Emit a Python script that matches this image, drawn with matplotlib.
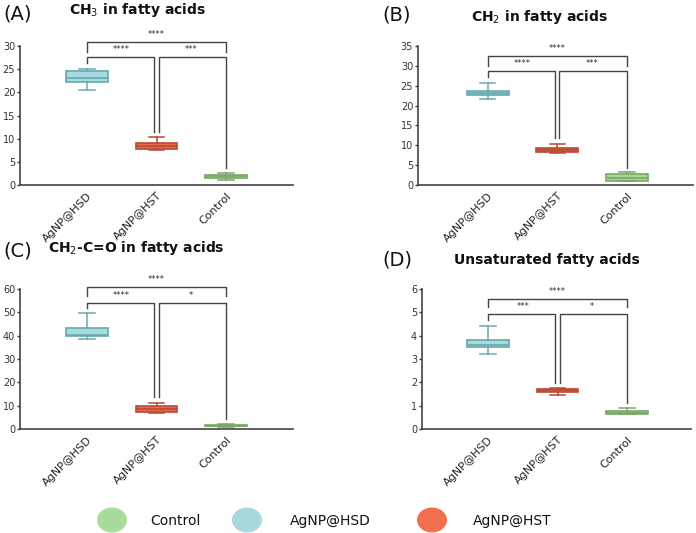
import matplotlib
matplotlib.use('Agg')
import matplotlib.pyplot as plt
from matplotlib.patches import Ellipse

groups = ['AgNP@HSD', 'AgNP@HST', 'Control']

# box stats per group: [whislo, q1, med, q3, whishi]
ch3_box = [[20.5, 22.3, 23.2, 24.6, 25.0],
           [7.5, 7.8, 8.4, 9.0, 10.3],
           [1.0, 1.6, 1.9, 2.2, 2.5]]
ch2_box = [[21.6, 22.7, 23.1, 23.7, 25.8],
           [8.0, 8.2, 8.7, 9.2, 10.2],
           [1.0, 1.1, 1.8, 2.8, 3.3]]
cco_box = [[38.5, 39.7, 40.3, 43.2, 49.6],
           [6.8, 7.5, 8.6, 10.0, 11.3],
           [1.0, 1.2, 1.5, 1.8, 2.0]]
unsat_box = [[3.21, 3.51, 3.62, 3.80, 4.43],
             [1.47, 1.60, 1.66, 1.72, 1.75],
             [0.65, 0.66, 0.70, 0.76, 0.90]]

# significance labels: [HSD vs Control, HSD vs HST, HST vs Control]
ch3_sig = ['****', '****', '***']
ch2_sig = ['****', '****', '***']
cco_sig = ['****', '****', '*']
unsat_sig = ['****', '***', '*']

# bracket levels: [top, top ends, second, HSD end, HST end, Control end]
ch3_br = [30.9, 28.7, 27.6, 26.3, 11.5, 3.7]
ch2_br = [32.5, 30.0, 28.7, 27.3, 11.8, 4.2]
cco_br = [61.0, 57.1, 54.2, 51.7, 13.9, 4.1]
unsat_br = [5.59, 5.21, 4.94, 4.69, 1.97, 1.11]

titles = ['CH$_3$ in fatty acids', 'CH$_2$ in fatty acids',
          'CH$_2$-C=O in fatty acids', 'Unsaturated fatty acids']
panel_labels = ['(A)', '(B)', '(C)', '(D)']
ymax = [30, 35, 60, 6]
ystep = [5, 5, 10, 1]

fills = ['#a6dbe0', '#ea6a4c', '#a9d595']
edges = ['#6aa9ad', '#b84a35', '#78a867']

W, H = 696, 533
fig = plt.figure(figsize=(W / 100, H / 100), dpi=100)


def px_axes(x0, x1, ytop, ybot):
    return fig.add_axes([x0 / W, 1 - ybot / H, (x1 - x0) / W, (ybot - ytop) / H])


axes = [px_axes(20, 293, 46, 185), px_axes(418, 693, 46, 185),
        px_axes(20, 293, 289, 429), px_axes(422, 691, 289, 429)]
boxes = [ch3_box, ch2_box, cco_box, unsat_box]
sigs = [ch3_sig, ch2_sig, cco_sig, unsat_sig]
brs = [ch3_br, ch2_br, cco_br, unsat_br]
xlims = [(-0.96, 2.96), (-1.0, 2.95), (-0.96, 2.96), (-0.95, 2.92)]

line_c = '#444444'
for i, ax in enumerate(axes):
    stats = []
    for g, b in zip(groups, boxes[i]):
        stats.append({'label': g, 'whislo': b[0], 'q1': b[1], 'med': b[2],
                      'q3': b[3], 'whishi': b[4]})
    bp = ax.bxp(stats, positions=range(3), widths=0.6, patch_artist=True,
                showfliers=False, manage_ticks=False)
    for j in range(3):
        bp['boxes'][j].set(facecolor=fills[j], edgecolor=edges[j], linewidth=1.2)
        bp['medians'][j].set(color=edges[j], linewidth=1.2)
        for k in (2 * j, 2 * j + 1):
            bp['whiskers'][k].set(color=edges[j], linewidth=1.1)
            bp['caps'][k].set(color=edges[j], linewidth=1.1, xdata=[j - 0.11, j + 0.11])

    ax.set_xlim(*xlims[i])
    ax.set_ylim(0, ymax[i])
    ax.set_yticks(range(0, ymax[i] + 1, ystep[i]))
    ax.set_xticks(range(3))
    ax.set_xticklabels(groups, rotation=45, ha='right', rotation_mode='anchor',
                       fontsize=8, color='#222222')
    ax.tick_params(axis='y', labelsize=7, colors='#333333', length=2, width=1, pad=1.5)
    ax.tick_params(axis='x', length=0, pad=4)
    for s in ('top', 'right'):
        ax.spines[s].set_visible(False)
    for s in ('left', 'bottom'):
        ax.spines[s].set(color='#444444', linewidth=1.2)

    # significance brackets
    br = brs[i]
    kw = dict(color=line_c, lw=1, clip_on=False)
    ax.plot([0, 0, 2, 2], [br[1], br[0], br[0], br[1]], **kw)
    d = 0.03
    ax.plot([0, 0, 1 - d, 1 - d], [br[3], br[2], br[2], br[4]], **kw)
    ax.plot([1 + d, 1 + d, 2, 2], [br[4], br[2], br[2], br[5]], **kw)
    tk = dict(ha='center', va='bottom', fontsize=6, color='#333333',
              textcoords='offset points', annotation_clip=False)
    ax.annotate(sigs[i][0], (1, br[0]), xytext=(0, 2), **tk)
    ax.annotate(sigs[i][1], (0.5, br[2]), xytext=(0, 2), **tk)
    ax.annotate(sigs[i][2], (1.5, br[2]), xytext=(0, 2), **tk)

# panel labels and titles
label_pos = [(3, 14), (382, 15), (3, 251), (382, 260)]
title_pos = [(69, 10), (471, 17), (48, 248), (454, 260)]
for i in range(4):
    fig.text(label_pos[i][0] / W, 1 - label_pos[i][1] / H, panel_labels[i],
             fontsize=14, va='center', ha='left', color='#111111')
    fig.text(title_pos[i][0] / W, 1 - title_pos[i][1] / H, titles[i],
             fontsize=10, fontweight='bold', va='center', ha='left', color='#111111')

# legend
leg_names = ['Control', 'AgNP@HSD', 'AgNP@HST']
leg_colors = ['#a8dc9c', '#a8d8dc', '#f07050']
leg_x = [112, 247, 432]
text_x = [150, 290, 473]
for name, c, mx, tx in zip(leg_names, leg_colors, leg_x, text_x):
    fig.patches.append(Ellipse((mx / W, 1 - 520 / H), 30 / W, 25 / H,
                               transform=fig.transFigure, facecolor=c,
                               edgecolor='none'))
    fig.text(tx / W, 1 - 521 / H, name, fontsize=10, va='center', ha='left',
             color='#111111')

fig.savefig('out.png', dpi=100)
